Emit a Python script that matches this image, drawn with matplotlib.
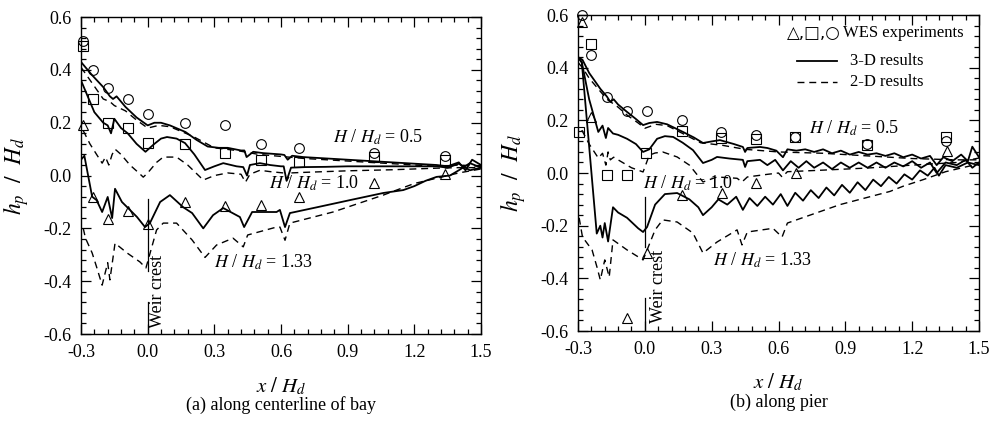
import numpy as np
import matplotlib
matplotlib.use('Agg')
import matplotlib.pyplot as plt
from matplotlib.ticker import MultipleLocator, FormatStrFormatter

plt.rcParams['font.family'] = ['Liberation Serif', 'DejaVu Sans']
plt.rcParams['mathtext.fontset'] = 'stix'
plt.rcParams['axes.unicode_minus'] = False

# ---------------- (a) along centerline of bay ----------------
xa_exp = [-0.29, -0.245, -0.18, -0.09, 0.0, 0.17, 0.35, 0.51, 0.68, 1.02, 1.34]
a_circ = [0.51, 0.40, 0.33, 0.29, 0.235, 0.20, 0.19, 0.12, 0.105, 0.085, 0.075]
a_sq = [0.49, 0.29, 0.20, 0.18, 0.125, 0.12, 0.085, 0.06, 0.05, 0.07, 0.06]
a_tri = [0.19, -0.08, -0.165, -0.135, -0.185, -0.10, -0.115, -0.11, -0.08, -0.03, 0.005]

a3_05_x = [-0.3, -0.25, -0.2, -0.17, -0.156, -0.14, -0.1, -0.05, 0.0, 0.03, 0.06, 0.1, 0.17, 0.22, 0.27,
           0.32, 0.36, 0.42, 0.435, 0.445, 0.475, 0.52, 0.6, 0.615, 0.63, 0.65, 0.7, 0.8, 0.9, 1.0, 1.1,
           1.2, 1.3, 1.35, 1.4, 1.43, 1.46, 1.5]
a3_05_y = [0.43, 0.38, 0.335, 0.30, 0.29, 0.30, 0.26, 0.22, 0.19, 0.20, 0.20, 0.19, 0.165, 0.135, 0.11,
           0.105, 0.105, 0.095, 0.095, 0.07, 0.09, 0.085, 0.08, 0.078, 0.06, 0.075, 0.07, 0.065, 0.06, 0.055, 0.05,
           0.045, 0.04, 0.035, 0.05, 0.02, 0.06, 0.04]
a2_05_x = [-0.3, -0.25, -0.2, -0.17, -0.15, -0.1, -0.05, 0.0, 0.05, 0.1, 0.2, 0.3, 0.4, 0.5, 0.7, 0.9,
           1.1, 1.3, 1.4, 1.5]
a2_05_y = [0.41, 0.35, 0.29, 0.28, 0.265, 0.245, 0.21, 0.18, 0.19, 0.185, 0.15, 0.105, 0.095, 0.08, 0.065, 0.055,
           0.045, 0.035, 0.04, 0.035]

a3_10_x = [-0.3, -0.27, -0.24, -0.2, -0.18, -0.165, -0.15, -0.12, -0.09, -0.05, -0.01, 0.03, 0.06, 0.087,
           0.13, 0.168, 0.21, 0.258, 0.3, 0.34, 0.4, 0.43, 0.447, 0.46, 0.505, 0.55, 0.6, 0.612, 0.625,
           0.645, 0.7, 0.8, 0.9, 1.0, 1.1, 1.2, 1.3, 1.35, 1.4, 1.45, 1.5]
a3_10_y = [0.36, 0.30, 0.24, 0.20, 0.19, 0.16, 0.215, 0.18, 0.16, 0.12, 0.09, 0.12, 0.14, 0.146,
           0.14, 0.123, 0.08, 0.021, 0.035, 0.047, 0.035, 0.032, 0.0, 0.04, 0.047, 0.04, 0.035, 0.035, -0.02,
           0.03, 0.032, 0.033, 0.035, 0.035, 0.035, 0.035, 0.035, 0.03, 0.045, 0.02, 0.03]
a2_10_x = [-0.29, -0.26, -0.23, -0.205, -0.19, -0.175, -0.16, -0.147, -0.12, -0.08, -0.04, -0.02, 0.0, 0.04,
           0.07, 0.13, 0.18, 0.25, 0.3, 0.36, 0.42, 0.44, 0.46, 0.505, 0.55, 0.61, 0.627, 0.645, 0.7, 0.8,
           0.9, 1.0, 1.1, 1.2, 1.3, 1.4, 1.5]
a2_10_y = [0.17, 0.12, 0.08, 0.047, 0.07, 0.04, 0.08, 0.10, 0.08, 0.04, 0.01, -0.006, 0.01, 0.05,
           0.07, 0.07, 0.04, -0.017, 0.0, 0.01, 0.005, -0.025, 0.005, 0.02, 0.015, 0.01, -0.017, 0.01, 0.012, 0.015,
           0.018, 0.02, 0.022, 0.025, 0.028, 0.03, 0.03]

a3_133_x = [-0.3, -0.285, -0.25, -0.23, -0.205, -0.18, -0.16, -0.147, -0.116, -0.08, -0.048, -0.012, 0.01,
            0.056, 0.1, 0.16, 0.2, 0.25, 0.294, 0.34, 0.415, 0.434, 0.47, 0.58, 0.595, 0.618, 0.64, 0.762,
            0.91, 1.06, 1.15, 1.2, 1.25, 1.3, 1.36, 1.4, 1.45, 1.5]
a3_133_y = [0.06, 0.075, -0.08, -0.093, -0.138, -0.081, -0.161, -0.05, -0.10, -0.13, -0.157, -0.195, -0.18,
            -0.10, -0.074, -0.12, -0.142, -0.20, -0.15, -0.123, -0.157, -0.195, -0.138, -0.138, -0.13, -0.195, -0.142, -0.12,
            -0.093, -0.066, -0.055, -0.04, -0.02, -0.005, 0.0, 0.02, 0.047, 0.03]
a2_133_x = [-0.29, -0.28, -0.25, -0.23, -0.205, -0.18, -0.17, -0.147, -0.093, -0.035, -0.008, 0.04, 0.07,
            0.13, 0.2, 0.258, 0.31, 0.384, 0.43, 0.45, 0.58, 0.595, 0.618, 0.64, 0.834, 1.06, 1.12, 1.2,
            1.3, 1.4, 1.5]
a2_133_y = [-0.2, -0.237, -0.293, -0.346, -0.415, -0.33, -0.395, -0.256, -0.293, -0.327, -0.35, -0.206, -0.18,
            -0.18, -0.244, -0.31, -0.263, -0.237, -0.27, -0.225, -0.195, -0.195, -0.245, -0.18, -0.138, -0.074, -0.055, -0.03,
            -0.01, 0.01, 0.025]

# ---------------- (b) along pier ----------------
b_circ_x = [-0.28, -0.24, -0.17, -0.08, 0.01, 0.167, 0.34, 0.50, 0.674, 0.997, 1.35]
b_circ = [0.6, 0.448, 0.29, 0.235, 0.235, 0.20, 0.156, 0.145, 0.137, 0.11, 0.12]
b_sq_x = [-0.295, -0.24, -0.17, -0.08, 0.005, 0.167, 0.34, 0.50, 0.674, 0.997, 1.35]
b_sq = [0.155, 0.49, -0.008, -0.008, 0.076, 0.16, 0.133, 0.13, 0.135, 0.106, 0.135]
b_tri_x = [-0.28, -0.24, -0.08, 0.01, 0.167, 0.346, 0.5, 0.678, 1.356]
b_tri = [0.573, 0.213, -0.55, -0.304, -0.084, -0.076, -0.038, 0.0, 0.085]

b3_05_x = [-0.3, -0.28, -0.25, -0.2, -0.17, -0.155, -0.14, -0.12, -0.08, -0.04, -0.008, 0.02, 0.055, 0.1,
           0.171, 0.22, 0.261, 0.3, 0.337, 0.4, 0.44, 0.45, 0.46, 0.517, 0.55, 0.59, 0.62, 0.64, 0.68, 0.72,
           0.76, 0.8, 0.84, 0.88, 0.92, 0.96, 1.0, 1.04, 1.08, 1.12, 1.16, 1.2, 1.24, 1.28, 1.31, 1.34, 1.38,
           1.42, 1.45, 1.47, 1.5]
b3_05_y = [0.44, 0.43, 0.38, 0.32, 0.29, 0.27, 0.28, 0.26, 0.232, 0.205, 0.182, 0.19, 0.194, 0.185,
           0.156, 0.135, 0.114, 0.12, 0.125, 0.11, 0.099, 0.08, 0.095, 0.099, 0.095, 0.085, 0.06, 0.09, 0.085, 0.09,
           0.08, 0.09, 0.075, 0.085, 0.07, 0.08, 0.07, 0.075, 0.065, 0.075, 0.06, 0.07, 0.055, 0.065, 0.03, 0.06, 0.045,
           0.07, 0.045, 0.1, 0.06]
b2_05_x = [-0.3, -0.28, -0.25, -0.2, -0.17, -0.12, -0.08, -0.03, 0.0, 0.05, 0.1, 0.17, 0.25, 0.35, 0.45,
           0.6, 0.8, 1.0, 1.2, 1.4, 1.5]
b2_05_y = [0.42, 0.40, 0.36, 0.31, 0.28, 0.25, 0.22, 0.19, 0.17, 0.185, 0.18, 0.15, 0.115, 0.105, 0.09,
           0.08, 0.075, 0.065, 0.055, 0.05, 0.05]

b3_10_x = [-0.3, -0.283, -0.25, -0.209, -0.19, -0.175, -0.165, -0.143, -0.12, -0.08, -0.04, -0.008, 0.02,
           0.055, 0.09, 0.127, 0.17, 0.216, 0.261, 0.3, 0.324, 0.38, 0.44, 0.45, 0.46, 0.517, 0.55, 0.585,
           0.62, 0.655, 0.69, 0.725, 0.76, 0.8, 0.84, 0.88, 0.92, 0.96, 1.0, 1.04, 1.08, 1.12, 1.16, 1.2,
           1.24, 1.28, 1.31, 1.35, 1.4, 1.44, 1.47, 1.5]
b3_10_y = [0.44, 0.42, 0.28, 0.156, 0.18, 0.133, 0.171, 0.15, 0.145, 0.13, 0.11, 0.08, 0.09,
           0.13, 0.14, 0.137, 0.115, 0.087, 0.038, 0.05, 0.061, 0.055, 0.05, 0.023, 0.045, 0.05, 0.03, 0.05,
           0.01, 0.045, 0.02, 0.045, 0.02, 0.04, 0.015, 0.04, 0.02, 0.04, 0.02, 0.04, 0.02, 0.04, 0.025, 0.045,
           0.02, 0.04, 0.0, 0.04, 0.03, 0.05, 0.02, 0.04]
b2_10_x = [-0.283, -0.25, -0.209, -0.19, -0.175, -0.165, -0.155, -0.14, -0.1, -0.06, -0.008, 0.02, 0.046,
           0.08, 0.145, 0.2, 0.261, 0.324, 0.414, 0.436, 0.46, 0.55, 0.6, 0.616, 0.64, 0.8, 1.0, 1.2, 1.3,
           1.4, 1.5]
b2_10_y = [0.163, 0.11, 0.057, 0.075, 0.03, 0.08, 0.05, 0.06, 0.04, 0.02, 0.004, 0.068, 0.076,
           0.08, 0.061, 0.03, -0.034, -0.015, -0.02, -0.034, -0.015, -0.005, 0.0, -0.015, 0.005, 0.011, 0.019, 0.03, 0.035,
           0.04, 0.057]

b3_133_x = [-0.3, -0.283, -0.25, -0.216, -0.2, -0.19, -0.18, -0.165, -0.143, -0.12, -0.08, -0.03, -0.008,
            0.01, 0.046, 0.09, 0.145, 0.2, 0.24, 0.261, 0.3, 0.33, 0.37, 0.41, 0.44, 0.47, 0.505, 0.54, 0.575,
            0.61, 0.64, 0.675, 0.71, 0.745, 0.78, 0.815, 0.85, 0.885, 0.92, 0.955, 0.99, 1.025, 1.06, 1.095,
            1.13, 1.165, 1.2, 1.235, 1.27, 1.3, 1.32, 1.35, 1.4, 1.45, 1.5]
b3_133_y = [0.44, 0.42, 0.1, -0.23, -0.2, -0.245, -0.19, -0.26, -0.13, -0.15, -0.17, -0.21, -0.224,
            -0.205, -0.12, -0.08, -0.076, -0.1, -0.13, -0.16, -0.13, -0.1, -0.12, -0.09, -0.14, -0.095, -0.125, -0.09, -0.12,
            -0.08, -0.125, -0.075, -0.105, -0.065, -0.095, -0.055, -0.085, -0.045, -0.075, -0.035, -0.065, -0.025, -0.05, -0.015,
            -0.04, -0.005, -0.025, 0.01, -0.01, 0.02, -0.01, 0.03, 0.02, 0.04, 0.03]
b2_133_x = [-0.295, -0.28, -0.237, -0.215, -0.2, -0.18, -0.16, -0.143, -0.08, -0.008, 0.046, 0.08, 0.145,
            0.216, 0.261, 0.324, 0.414, 0.436, 0.46, 0.575, 0.616, 0.64, 0.876, 1.1, 1.16, 1.25, 1.35, 1.45,
            1.5]
b2_133_y = [-0.17, -0.243, -0.292, -0.357, -0.406, -0.33, -0.395, -0.254, -0.292, -0.33, -0.216, -0.178, -0.186,
            -0.228, -0.304, -0.262, -0.216, -0.273, -0.224, -0.21, -0.243, -0.19, -0.12, -0.07, -0.05, -0.025, 0.005, 0.025,
            0.035]

fig = plt.figure(figsize=(9.93, 4.28), dpi=100)
ax_a = fig.add_axes([0.0816, 0.2196, 0.4028, 0.7404])
ax_b = fig.add_axes([0.5821, 0.2266, 0.4038, 0.7383])

solid = dict(color='black', lw=1.3)
dash = dict(color='black', lw=1.0, dashes=(5, 3.5))
mk = dict(ls='none', mfc='none', mec='black', mew=0.8, ms=7, clip_on=False)


def style(ax, caption):
    ax.set_xlim(-0.3, 1.5)
    ax.set_ylim(-0.6, 0.6)
    ax.xaxis.set_major_locator(MultipleLocator(0.3))
    ax.xaxis.set_minor_locator(MultipleLocator(0.06))
    ax.yaxis.set_major_locator(MultipleLocator(0.2))
    ax.yaxis.set_minor_locator(MultipleLocator(0.04))
    ax.xaxis.set_major_formatter(FormatStrFormatter('%.1f'))
    ax.yaxis.set_major_formatter(FormatStrFormatter('%.1f'))
    ax.tick_params(which='both', direction='in', top=True, right=True, labelsize=13, width=0.9)
    ax.tick_params(which='major', length=7, pad=7)
    ax.tick_params(which='minor', length=3.5)
    for s in ax.spines.values():
        s.set_linewidth(1.0)
    ax.set_xlabel(r'$x\ /\ H_d$', fontsize=15)
    ax.set_ylabel(r'$h_p\ \ /\ \ H_d$', fontsize=17)
    ax.xaxis.set_label_coords(0.5, -0.13)
    ax.yaxis.set_label_coords(-0.125, 0.5)
    ax.text(0.5, -0.225, caption, transform=ax.transAxes, ha='center', va='center', fontsize=13)


# panel (a)
ax = ax_a
ax.plot(a3_05_x, a3_05_y, **solid)
ax.plot(a2_05_x, a2_05_y, **dash)
ax.plot(a3_10_x, a3_10_y, **solid)
ax.plot(a2_10_x, a2_10_y, **dash)
ax.plot(a3_133_x, a3_133_y, **solid)
ax.plot(a2_133_x, a2_133_y, **dash)
ax.plot(xa_exp, a_circ, marker='o', **mk)
ax.plot(xa_exp, a_sq, marker='s', **mk)
ax.plot(xa_exp, a_tri, marker='^', **mk)
ax.plot([0, 0], [-0.09, -0.36], color='black', lw=0.9)
ax.plot([0, 0], [-0.48, -0.6], color='black', lw=0.9)
ax.text(0.045, -0.44, 'Weir crest', rotation=90, ha='center', va='center', fontsize=13)
ax.text(0.834, 0.146, r'$H$ / $H_d$ = 0.5', ha='left', va='center', fontsize=13)
ax.text(0.546, -0.028, r'$H$ / $H_d$ = 1.0', ha='left', va='center', fontsize=13)
ax.text(0.30, -0.33, r'$H$ / $H_d$ = 1.33', ha='left', va='center', fontsize=13)
style(ax, '(a) along centerline of bay')

# panel (b)
ax = ax_b
ax.plot(b3_05_x, b3_05_y, **solid)
ax.plot(b2_05_x, b2_05_y, **dash)
ax.plot(b3_10_x, b3_10_y, **solid)
ax.plot(b2_10_x, b2_10_y, **dash)
ax.plot(b3_133_x, b3_133_y, **solid)
ax.plot(b2_133_x, b2_133_y, **dash)
ax.plot(b_circ_x, b_circ, marker='o', **mk)
ax.plot(b_sq_x, b_sq, marker='s', **mk)
ax.plot(b_tri_x, b_tri, marker='^', **mk)
ax.plot([0, 0], [-0.09, -0.28], color='black', lw=0.9)
ax.plot([0, 0], [-0.475, -0.6], color='black', lw=0.9)
ax.text(0.06, -0.43, 'Weir crest', rotation=90, ha='center', va='center', fontsize=13)
ax.text(0.736, 0.171, r'$H$ / $H_d$ = 0.5', ha='left', va='center', fontsize=13)
ax.text(-0.008, -0.038, r'$H$ / $H_d$ = 1.0', ha='left', va='center', fontsize=13)
ax.text(0.306, -0.33, r'$H$ / $H_d$ = 1.33', ha='left', va='center', fontsize=13)

# legend drawn as text + sample lines
ax.text(0.877, 0.532, '△,□,○', ha='right', va='center', fontsize=12,
        family=['DejaVu Sans'])
ax.text(0.89, 0.532, 'WES experiments', ha='left', va='center', fontsize=12)
ax.plot([0.683, 0.863], [0.425, 0.425], **solid)
ax.text(0.921, 0.425, '3-D results', ha='left', va='center', fontsize=12)
ax.plot([0.683, 0.863], [0.345, 0.345], **dash)
ax.text(0.921, 0.345, '2-D results', ha='left', va='center', fontsize=12)
style(ax, '(b) along pier')

fig.savefig('out.png', dpi=100)
